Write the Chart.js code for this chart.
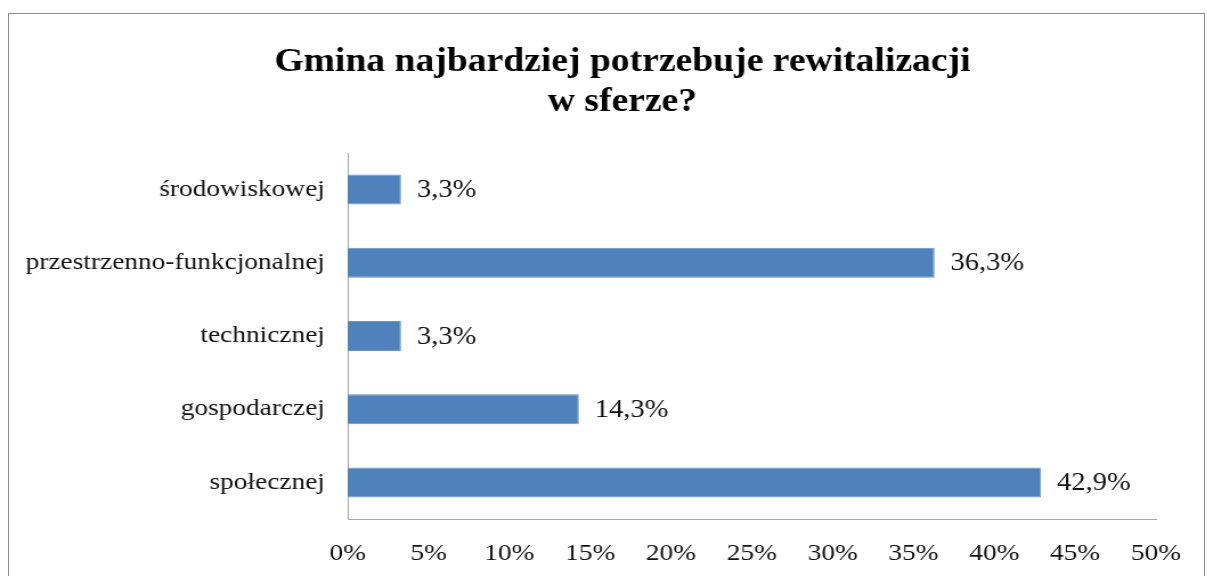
<!DOCTYPE html>
<html>
<head>
<meta charset="utf-8">
<script src="https://cdn.jsdelivr.net/npm/chart.js@4.4.1/dist/chart.umd.min.js"></script>
<style>
  html, body { margin: 0; padding: 0; background: #fff; }
  #wrap { position: relative; width: 1207px; height: 576px; overflow: hidden; }
  #frame { position: absolute; left: 8px; top: 13px; width: 1197px; height: 600px; border: 1px solid #8c8c8c; box-sizing: border-box; }
  /* the original picture is stretched sideways, so is this one */
  #stretch { position: absolute; left: 0; top: 0; transform: scaleX(1.14); transform-origin: 0 0; }
</style>
</head>
<body>
<div id="wrap">
  <div id="frame"></div>
  <div id="stretch"><canvas id="bar" width="1059" height="576"></canvas></div>
</div>
<script>
const titleLines = ['Gmina najbardziej potrzebuje rewitalizacji', 'w sferze?']
const categories = ['środowiskowej', 'przestrzenno-funkcjonalnej', 'technicznej', 'gospodarczej', 'społecznej']
const shares = [3.3, 36.3, 3.3, 14.3, 42.9]
const xTicks = [0, 5, 10, 15, 20, 25, 30, 35, 40, 45, 50]

const pct = v => String(v).replace('.', ',') + '%'

// title sits a bit right of the middle in the original
const chartTitle = {
  id: 'chartTitle',
  afterDraw(chart) {
    const ctx = chart.ctx
    ctx.save()
    ctx.font = 'bold 33px "Liberation Serif"'
    ctx.fillStyle = '#000'
    ctx.textAlign = 'center'
    ctx.textBaseline = 'alphabetic'
    titleLines.forEach((line, i) => ctx.fillText(line, 546, 71 + i * 40))
    ctx.restore()
  }
}

// labels next to the bars
const valueLabels = {
  id: 'valueLabels',
  afterDatasetsDraw(chart) {
    const ctx = chart.ctx
    const meta = chart.getDatasetMeta(0)
    ctx.save()
    ctx.font = '25px "Liberation Serif"'
    ctx.fillStyle = '#111'
    ctx.textAlign = 'left'
    ctx.textBaseline = 'middle'
    meta.data.forEach((bar, i) => {
      ctx.fillText(pct(shares[i]), bar.x + 14, bar.y + 1)
    })
    ctx.restore()
  }
}

const element = document.getElementById('bar')
new Chart(element.getContext('2d'), {
  type: 'bar',
  data: {
    labels: categories,
    datasets: [{
      data: shares,
      backgroundColor: '#4f81bd',
      borderColor: '#6b96c9',
      borderWidth: 1,
      barPercentage: 0.41,
      categoryPercentage: 1
    }]
  },
  options: {
    responsive: false,
    animation: false,
    indexAxis: 'y',
    layout: { padding: { left: 0, right: 45, top: 153, bottom: 0 } },
    plugins: {
      legend: { display: false },
      tooltip: { enabled: false },
      title: { display: false }
    },
    scales: {
      x: {
        min: 0,
        max: 50,
        afterBuildTicks: scale => { scale.ticks = xTicks.map(v => ({ value: v })) },
        afterFit: scale => { scale.height = 57 },
        grid: { display: false, drawTicks: false },
        border: { display: true, color: '#a6a6a6', width: 1 },
        ticks: {
          padding: 20,
          color: '#111',
          font: { family: '"Liberation Serif"', size: 24 },
          callback: v => v + '%'
        }
      },
      y: {
        afterFit: scale => { scale.width = 305 },
        grid: { display: false, drawTicks: false },
        border: { display: true, color: '#a6a6a6', width: 1 },
        ticks: {
          padding: 20,
          color: '#111',
          font: { family: '"Liberation Serif"', size: 24 }
        }
      }
    }
  },
  plugins: [chartTitle, valueLabels]
})
</script>
</body>
</html>
